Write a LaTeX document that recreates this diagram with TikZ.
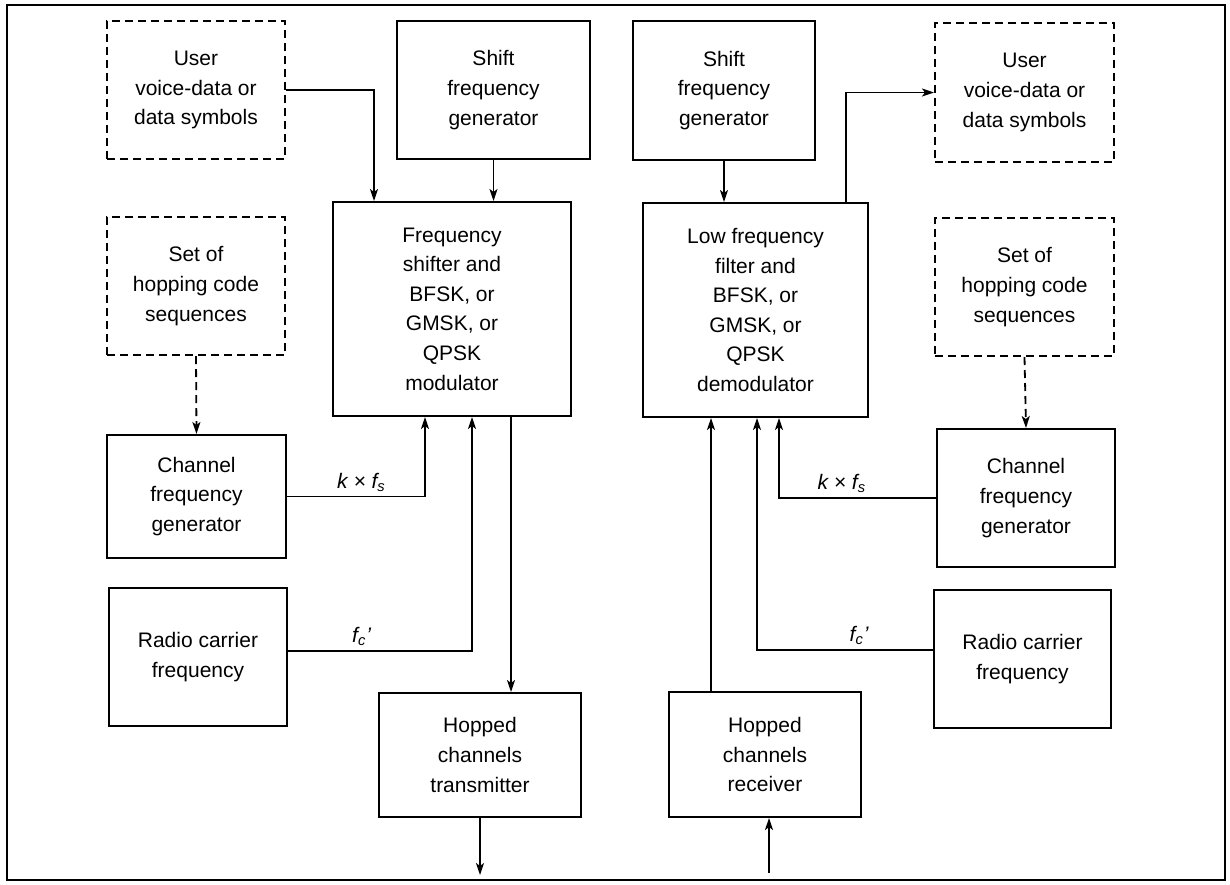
\documentclass[tikz,border=0pt]{standalone}
\usepackage{fontspec}
\setmainfont{Liberation Sans}
\usetikzlibrary{arrows.meta,calc}

\begin{document}
\begin{tikzpicture}[x=0.5pt,y=-0.5pt,
    blk/.style={draw, line width=1pt, align=center, inner sep=0pt,
        font=\fontsize{10.5pt}{14.8pt}\selectfont},
    dblk/.style={blk, dash pattern=on 4pt off 2.5pt},
    sig/.style={line width=0.9pt, -{Stealth[length=6pt,width=4pt,inset=1.5pt]}},
    dsig/.style={sig, dash pattern=on 4pt off 2.5pt},
    lbl/.style={above, inner sep=2pt, font=\fontsize{10.5pt}{12pt}\selectfont\itshape}]
    \useasboundingbox (0,0) rectangle (1230,884);
    \draw[line width=1.2pt] (7,5) rectangle (1225,880);

    % transmitter side
    \node[dblk, minimum width=89pt, minimum height=69pt] (userTx) at (196,90) {User\\voice-data or\\data symbols};
    \node[blk, minimum width=96.5pt, minimum height=69pt] (shiftTx) at (493.5,90) {Shift\\frequency\\generator};
    \node[blk, minimum width=119pt, minimum height=107pt] (mod) at (452,309) {Frequency\\shifter and\\BFSK, or\\GMSK, or\\QPSK\\modulator};
    \node[dblk, minimum width=89pt, minimum height=69pt] (codesTx) at (196,286) {Set of\\hopping code\\sequences};
    \node[blk, minimum width=89.5pt, minimum height=61.5pt] (chanTx) at (196.5,496.5) {Channel\\frequency\\generator};
    \node[blk, minimum width=89pt, minimum height=69pt] (carrierTx) at (198,657) {Radio carrier\\frequency};
    \node[blk, minimum width=101pt, minimum height=62pt] (txOut) at (480,755) {Hopped\\channels\\transmitter};

    % receiver side
    \node[blk, minimum width=91pt, minimum height=69.5pt] (shiftRx) at (724,90.5) {Shift\\frequency\\generator};
    \node[blk, minimum width=112.5pt, minimum height=107pt] (demod) at (755.5,310) {Low frequency\\filter and\\BFSK, or\\GMSK, or\\QPSK\\demodulator};
    \node[dblk, minimum width=89.5pt, minimum height=69.5pt] (userRx) at (1024.5,92.5) {User\\voice-data or\\data symbols};
    \node[dblk, minimum width=89.5pt, minimum height=69pt] (codesRx) at (1024.5,287) {Set of\\hopping code\\sequences};
    \node[blk, minimum width=89pt, minimum height=69pt] (chanRx) at (1026,498) {Channel\\frequency\\generator};
    \node[blk, minimum width=88.5pt, minimum height=69pt] (carrierRx) at (1022.5,659) {Radio carrier\\frequency};
    \node[blk, minimum width=96pt, minimum height=62.5pt] (rxIn) at (765,754.5) {Hopped\\channels\\receiver};

    \coordinate (modOut) at ($(mod.south west)+(179,0)$);
    \coordinate (txAnt) at (479,875);
    \coordinate (demodOut) at ($(demod.north west)+(204,0)$);
    \coordinate (rxTap) at ($(rxIn.north west)+(43,0)$);
    \coordinate (rxAnt) at (769,873);

    \draw[sig] (userTx.east) -| ($(mod.north west)+(42,0)$);
    \draw[sig] (shiftTx.south) -- (shiftTx.south |- mod.north);
    \draw[dsig] (codesTx.south) -- (chanTx.north);
    \draw[sig] (chanTx.east) -| ($(mod.south west)+(93,0)$) node[lbl, pos=0.27] {k × f\textsubscript{s}};
    \draw[sig] ([yshift=3pt]carrierTx.east) -| ($(mod.south west)+(140,0)$) node[lbl, pos=0.2] {f\textsubscript{c}'};
    \draw[sig] (modOut) -- (modOut |- txOut.north);
    \draw[sig] (txOut.south) -- (txOut.south |- txAnt);

    \draw[sig] (shiftRx.south) -- (shiftRx.south |- demod.north);
    \draw[sig] (demodOut) |- (userRx.west);
    \draw[dsig] (codesRx.south) -- (chanRx.north);
    \draw[sig] (chanRx.west) -| ($(demod.south west)+(137,0)$) node[lbl, pos=0.3] {k × f\textsubscript{s}};
    \draw[sig] ([yshift=4.5pt]carrierRx.west) -| ($(demod.south west)+(115,0)$) node[lbl, pos=0.21] {f\textsubscript{c}'};
    \draw[sig] (rxTap) -- (rxTap |- demod.south);
    \draw[sig] (rxAnt) -- (rxAnt |- rxIn.south);
\end{tikzpicture}
\end{document}
